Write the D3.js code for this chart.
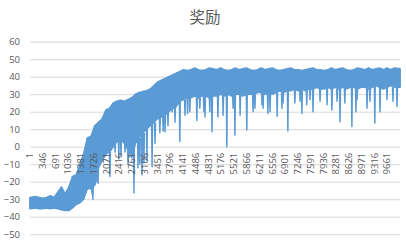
<!DOCTYPE html>
<html>
<head>
<meta charset="utf-8">
<script src="https://cdn.jsdelivr.net/npm/d3@7"></script>
<style>
  html, body { margin: 0; padding: 0; background: #fff; }
  svg { display: block; }
</style>
</head>
<body>
<svg id="chart" width="406" height="241"></svg>
<script>
// ---- data (bins of 100 episodes) ----
const binSize = 100;
const episodeCount = 10000;
const upperEnvelope = [
  -29,-28.5,-29,-29.5,-29,-28,-29,
  -26,-23,-27,-23,-17,
  -16,-10,-4,5,6,12,14,16,21,22,
  25,26,26.5,26,27,28,30,31,31.5,32,33,35,37,38,39,40,41,42,
  43,44,43.5,44,45,44,43.5,44,45,44.5,
  44,45,44,43.5,44,45,44,44.5,45,44,
  43.5,44,45,44,44.5,45,44,43.5,44,44.5,
  45,44,44,43.5,44,44.5,45,44,44,43.5,
  44,45,44,44.5,45,44,43.5,44,45,44.5,
  44,45,44,44.5,45,44,45,44,45,44.5
];
const lowerEnvelope = [
  -35.5,-35,-35.5,-35.5,-35,-35.5,-35,-35.5,
  -36,-36.5,-36.5,-35,
  -33,-32,-30,-24,-24,-22,-12,-8,-4,-3,
  0,3,4,2,-2,-6,2,5,8,10,12,14,16,17,18,20,22,23,
  26,27,28,28,29,28,29,29,28,29,
  29,30,29,30,29,30,30,29,30,30,
  30,31,31,30,31,30,31,32,31,32,
  32,33,32,33,32,33,33,34,33,33,
  34,33,34,33,34,33,34,34,33,34,
  34,33,34,35,34,33,34,35,34,34
];
// downward dips: episode and reward at the dip
const dipEpisodes = [1680,1700,1810,1840,1970,2050,2160,2300,2400,2460,2570,2650,2700,2810,2920,2970,3030,3080,3160,3300,3380,3510,3600,3650,3730,3840,3920,4050,4190,4260,4320,4510,4590,4700,4730,4860,4920,5080,5220,5320,5490,5540,5680,5860,6030,6080,6270,6300,6430,6490,6680,6810,6840,6970,7160,7300,7350,7480,7570,7650,7840,8030,8160,8300,8380,8510,8700,8810,8840,9110,9190,9320,9460,9650,9810,9920];
const dipValues   = [-27,-30,-20,-21,-8,-5,-17,-3,-7,-5,-3,-10,-6,-26.4,-12,-10,-16,-9,-8,-11.5,2,8,9,8.6,12,20,14,3,18,19,20,15,22,20,17,20,8.6,17,18,0,22,6.7,18,9.6,20,22,24,22,19,20,17.2,22,25,9,25,26,19,24,27,20,26,24,21,26,14.3,25,11.5,20,27,22,26,13.5,20,27,26,23];
const xTickLabels = [1,346,691,1036,1381,1726,2071,2416,2761,3106,3451,3796,4141,4486,4831,5176,5521,5866,6211,6556,6901,7246,7591,7936,8281,8626,8971,9316,9661];
const yTicks = [-50,-40,-30,-20,-10,0,10,20,30,40,50,60];
const title = "奖励";

// ---- layout ----
const svg = d3.select("#chart");
const plotLeft = 30, plotRight = 400, plotTop = 41.7, plotBottom = 234.2;
const x = d3.scaleLinear().domain([0.5, episodeCount + 0.5]).range([plotLeft, plotRight]);
const y = d3.scaleLinear().domain([-50, 60]).range([plotBottom, plotTop]);
const blue = "#5B9BD5";
const textColor = "#595959";

// title
svg.append("text")
  .attr("x", 205).attr("y", 23)
  .attr("text-anchor", "middle")
  .attr("font-family", "'Noto Sans CJK SC', sans-serif")
  .attr("font-size", 15.5)
  .attr("fill", textColor)
  .text(title);

// gridlines + y labels
const yAxis = d3.axisLeft(y).tickValues(yTicks).tickSize(-(plotRight - plotLeft)).tickPadding(10).tickFormat(d3.format("d"));
const gy = svg.append("g").attr("transform", `translate(${plotLeft},0)`).call(yAxis);
gy.select(".domain").remove();
gy.selectAll(".tick line").attr("stroke", "#d9d9d9").attr("stroke-width", 1);
gy.selectAll(".tick text")
  .attr("fill", textColor)
  .attr("font-family", "'Open Sans', 'Noto Sans', sans-serif")
  .attr("font-size", 9.5);

// data
const bins = upperEnvelope.map((u, i) => ({ ep: i * binSize + binSize / 2, hi: u, lo: lowerEnvelope[i] }));
bins[0].ep = 1;
bins[bins.length - 1].ep = episodeCount;
const lowAt = ep => {
  const i = Math.max(0, Math.min(bins.length - 1, Math.floor(ep / binSize)));
  return lowerEnvelope[i];
};

const area = d3.area().x(d => x(d.ep)).y0(d => y(d.lo)).y1(d => y(d.hi));
svg.append("path").datum(bins)
  .attr("d", area)
  .attr("fill", blue)
  .attr("stroke", blue)
  .attr("stroke-width", 1.5)
  .attr("stroke-linejoin", "round");

// jagged vertical strokes per bin (noise)
const seg = d3.line().x(d => x(d[0])).y(d => y(d[1]));
svg.append("g").selectAll("path").data(bins).join("path")
  .attr("d", d => seg([[d.ep, d.lo], [d.ep, d.hi]]))
  .attr("stroke", blue).attr("stroke-width", 1.6).attr("fill", "none");

// dips
svg.append("g").selectAll("path").data(dipEpisodes).join("path")
  .attr("d", (ep, i) => seg([[ep - 12, lowAt(ep)], [ep, dipValues[i]], [ep + 12, lowAt(ep)]]))
  .attr("stroke", blue).attr("stroke-width", 1.5).attr("fill", "none")
  .attr("stroke-linejoin", "round");

// x category labels (rotated), placed under zero line
const xl = svg.append("g");
xl.selectAll("text").data(xTickLabels).join("text")
  .attr("transform", d => `translate(${x(d) + 3},${y(0) + 6}) rotate(-90)`)
  .attr("text-anchor", "end")
  .attr("font-family", "'Open Sans', 'Noto Sans', sans-serif")
  .attr("font-size", 9.5)
  .attr("fill", textColor)
  .text(d => d);
</script>
</body>
</html>
